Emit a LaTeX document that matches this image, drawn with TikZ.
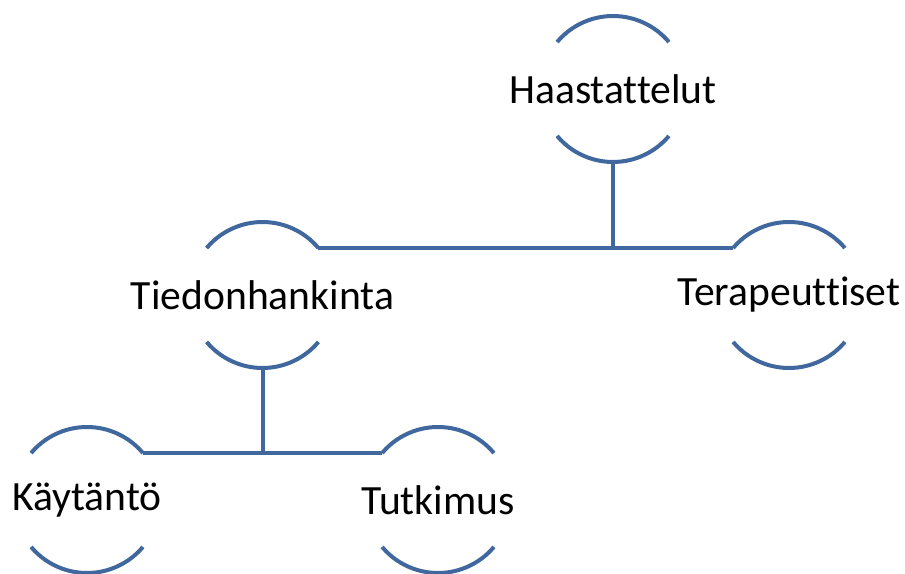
\documentclass[tikz,border=0pt]{standalone}
\usepackage{fontspec}
\setmainfont[Ligatures=NoCommon]{Carlito}
\definecolor{lnblue}{RGB}{64,104,158}
\begin{document}
\begin{tikzpicture}[x=1pt,y=1pt,
  ln/.style={draw=lnblue,line width=4pt},
  lbl/.style={inner sep=0pt,font=\fontsize{41.6}{50}\selectfont}]
\useasboundingbox (0,0) rectangle (905,573);
\newcommand\arcsnode[1]{%
  \draw[ln] ([shift={(140:73)}]#1.center) arc[start angle=140,end angle=40,radius=73];
  \draw[ln] ([shift={(220:73)}]#1.center) arc[start angle=220,end angle=320,radius=73];
  \coordinate (#1tl) at ([shift={(140:73)}]#1.center);
  \coordinate (#1tr) at ([shift={(40:73)}]#1.center);
  \coordinate (#1b) at ([shift={(270:73)}]#1.center);}
\node[lbl] (h) at (613,484) {Haastattelut};
\node[lbl] (t) at (262.5,278) {Tiedonhankinta};
\node[lbl] (te) at (789,278) {Terapeuttiset};
\node[lbl] (k) at (87,73) {Käytäntö};
\node[lbl] (tu) at (438,73) {Tutkimus};
\arcsnode{h}\arcsnode{t}\arcsnode{te}\arcsnode{k}\arcsnode{tu}
\draw[ln] (ttr) -- (tetl);
\draw[ln] (hb) -- (hb |- ttr);
\draw[ln] (ktr) -- (tutl);
\draw[ln] (tb) -- (tb |- ktr);
\end{tikzpicture}
\end{document}
